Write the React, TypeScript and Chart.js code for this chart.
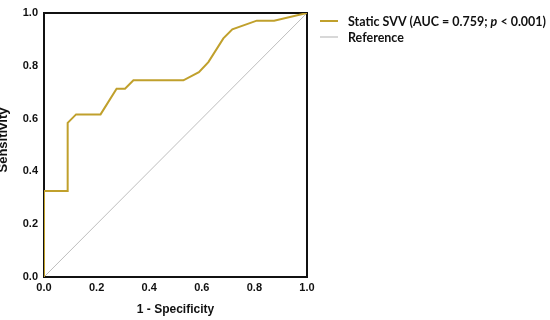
import React, { useEffect, useRef } from "react";
import { Chart, registerables } from "chart.js";

Chart.register(...registerables);

const rocX = [0, 0, 0.09, 0.09, 0.122, 0.215, 0.276, 0.308, 0.34, 0.53, 0.589, 0.625, 0.682, 0.716, 0.809, 0.875, 1.0];
const rocY = [0, 0.326, 0.326, 0.584, 0.616, 0.616, 0.713, 0.713, 0.745, 0.745, 0.776, 0.814, 0.904, 0.938, 0.971, 0.971, 1.0];
const refX = [0, 1];
const refY = [0, 1];
const tickValues = [0, 0.2, 0.4, 0.6, 0.8, 1.0];
const seriesLabel = "Static SVV";
const aucText = "(AUC = 0.759; ";
const pText = "p";
const pRest = " < 0.001)";
const refLabel = "Reference";
const xTitle = "1 - Specificity";
const yTitle = "Sensitivity";

const GOLD = "rgb(192,160,44)";
const GRAY = "rgb(190,190,190)";

const framePlugin = {
  id: "frame",
  beforeDatasetsDraw(chart: any) {
    const { ctx, chartArea } = chart;
    ctx.save();
    ctx.strokeStyle = "#111";
    ctx.lineWidth = 2;
    ctx.strokeRect(chartArea.left, chartArea.top, chartArea.right - chartArea.left, chartArea.bottom - chartArea.top);
    ctx.restore();
  },
  afterDraw(chart: any) {
    const { ctx, chartArea } = chart;
    ctx.save();
    // y title, clipped at the left edge
    ctx.translate(7, 140);
    ctx.rotate(-Math.PI / 2);
    ctx.font = "bold 13px 'Liberation Sans', Arial, sans-serif";
    ctx.fillStyle = "#111";
    ctx.textAlign = "center";
    ctx.textBaseline = "alphabetic";
    ctx.fillText(yTitle, 0, 0);
    ctx.restore();

    // x title
    ctx.save();
    ctx.font = "bold 12px 'Liberation Sans', Arial, sans-serif";
    ctx.fillStyle = "#111";
    ctx.textAlign = "center";
    ctx.textBaseline = "middle";
    ctx.fillText(xTitle, (chartArea.left + chartArea.right) / 2, 310);
    ctx.restore();

    // legend
    ctx.save();
    const lx = 320;
    ctx.lineWidth = 2;
    ctx.strokeStyle = GOLD;
    ctx.beginPath();
    ctx.moveTo(lx, 21);
    ctx.lineTo(lx + 18, 21);
    ctx.stroke();
    ctx.lineWidth = 1.2;
    ctx.strokeStyle = GRAY;
    ctx.beginPath();
    ctx.moveTo(lx, 37);
    ctx.lineTo(lx + 18, 37);
    ctx.stroke();
    ctx.restore();

    ctx.save();
    const tx = 348;
    const bold = "bold 14px Lato, 'Open Sans', sans-serif";
    const ital = "italic bold 14px Lato, 'Open Sans', sans-serif";
    const first = seriesLabel + " " + aucText;
    ctx.font = bold;
    const w1 = ctx.measureText(first).width;
    const w3 = ctx.measureText(pRest).width;
    ctx.font = ital;
    const w2 = ctx.measureText(pText).width;
    const total = w1 + w2 + w3;
    const sx = 198 / total;
    ctx.translate(tx, 0);
    ctx.scale(sx, 1);
    ctx.fillStyle = "#111";
    ctx.textBaseline = "alphabetic";
    ctx.textAlign = "left";
    ctx.font = bold;
    ctx.fillText(first, 0, 25.5);
    ctx.font = ital;
    ctx.fillText(pText, w1, 25.5);
    ctx.font = bold;
    ctx.fillText(pRest, w1 + w2, 25.5);
    ctx.fillText(refLabel, 0, 41.5);
    ctx.restore();
  },
};

export default function App() {
  const ref = useRef<HTMLCanvasElement | null>(null);
  useEffect(() => {
    if (!ref.current) return;
    const chart = new Chart(ref.current, {
      type: "line",
      data: {
        datasets: [
          {
            label: seriesLabel,
            data: rocX.map((x, i) => ({ x, y: rocY[i] })),
            borderColor: GOLD,
            borderWidth: 2,
            pointRadius: 0,
            fill: false,
            tension: 0,
            order: 1,
          },
          {
            label: refLabel,
            data: refX.map((x, i) => ({ x, y: refY[i] })),
            borderColor: GRAY,
            borderWidth: 1,
            pointRadius: 0,
            fill: false,
            order: 2,
          },
        ],
      },
      plugins: [framePlugin],
      options: {
        animation: false,
        responsive: false,
        layout: { padding: { left: 0, right: 243, top: 13, bottom: 0 } },
        plugins: { legend: { display: false }, tooltip: { enabled: false } },
        scales: {
          x: {
            type: "linear",
            min: 0,
            max: 1,
            afterBuildTicks: (s: any) => {
              s.ticks = tickValues.map((v) => ({ value: v }));
            },
            afterFit: (s: any) => {
              s.height = 43;
            },
            grid: { display: false, drawTicks: false },
            border: { display: false },
            ticks: {
              padding: 4,
              color: "#111",
              font: { family: "'Liberation Sans', Arial, sans-serif", size: 11, weight: "bold" },
              callback: (v: any) => Number(v).toFixed(1),
              maxRotation: 0,
            },
          },
          y: {
            type: "linear",
            min: 0,
            max: 1,
            afterBuildTicks: (s: any) => {
              s.ticks = tickValues.map((v) => ({ value: v }));
            },
            afterFit: (s: any) => {
              s.width = 44;
            },
            grid: { display: false, drawTicks: false },
            border: { display: false },
            ticks: {
              padding: 6,
              color: "#111",
              font: { family: "'Liberation Sans', Arial, sans-serif", size: 11, weight: "bold" },
              callback: (v: any) => Number(v).toFixed(1),
            },
          },
        },
      },
    } as any);
    return () => chart.destroy();
  }, []);
  return (
    <div style={{ position: "absolute", left: 0, top: 0, width: 550, height: 320, background: "#fff" }}>
      <canvas ref={ref} width={550} height={320} style={{ width: 550, height: 320, display: "block" }} />
    </div>
  );
}
